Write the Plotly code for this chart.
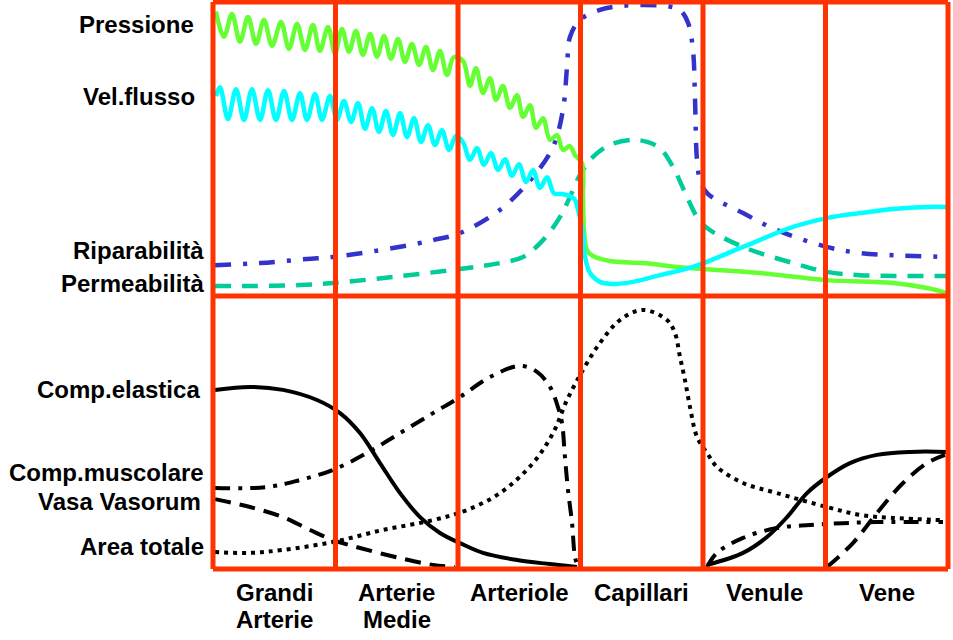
import plotly.graph_objects as go

# ---------------- data ----------------
col_line1 = ["Grandi", "Arterie", "Arteriole", "Capillari", "Venule", "Vene"]
col_line2 = ["Arterie", "Medie", "", "", "", ""]
top_labels = ["Pressione", "Vel.flusso", "Riparabilità", "Permeabilità"]
bottom_labels = ["Comp.elastica", "Comp.muscolare", "Vasa Vasorum", "Area totale"]

# Pressione (green, oscillating)
press_x = [0.024, 0.090, 0.155, 0.220, 0.286, 0.351, 0.416, 0.482, 0.555, 0.620, 0.686, 0.751, 0.816, 0.873, 0.939, 0.996,
           1.053, 1.110, 1.167, 1.224, 1.282, 1.339, 1.396, 1.453, 1.510, 1.567, 1.624, 1.682, 1.739, 1.796, 1.853, 1.910, 1.967,
           2.041, 2.098, 2.147, 2.204, 2.261, 2.310, 2.367, 2.424, 2.482, 2.531, 2.588, 2.637, 2.694, 2.751, 2.808, 2.857, 2.914, 2.955,
           3.012, 3.020, 3.029, 3.053, 3.102, 3.241, 3.510, 3.788, 4.000, 4.465, 5.012, 5.551, 5.829, 5.992]
press_y = [96.8, 88.2, 95.9, 86.5, 94.9, 85.8, 93.9, 85.1, 93.2, 84.1, 92.5, 83.7, 92.2, 83.4, 91.5, 82.4,
           90.8, 83.1, 90.1, 82.0, 89.1, 81.4, 88.4, 80.7, 87.4, 79.7, 85.7, 78.6, 84.7, 76.9, 83.3, 75.2, 81.3,
           79.9, 71.5, 77.5, 69.1, 74.1, 66.7, 71.4, 64.0, 68.3, 60.9, 64.9, 57.2, 60.5, 53.1, 54.7, 49.7, 51.0, 47.9,
           45.2, 33.7, 22.4, 15.6, 13.6, 11.9, 11.2, 9.9, 9.2, 7.8, 5.4, 4.4, 2.7, 1.0]

# Vel.flusso (cyan, oscillating)
vel_x = [0.024, 0.057, 0.122, 0.188, 0.253, 0.318, 0.384, 0.449, 0.514, 0.580, 0.645, 0.710, 0.767, 0.833, 0.890, 0.955, 1.012,
         1.069, 1.127, 1.184, 1.241, 1.298, 1.355, 1.412, 1.469, 1.527, 1.584, 1.641, 1.698, 1.755, 1.812, 1.869, 1.927, 1.984,
         2.041, 2.098, 2.155, 2.212, 2.269, 2.327, 2.384, 2.441, 2.498, 2.555, 2.612, 2.669, 2.727, 2.784,
         2.849, 2.914, 2.955, 2.980, 3.020, 3.037, 3.078, 3.159, 3.265, 3.429, 3.649, 3.918, 4.327, 4.735, 5.012, 5.282, 5.551, 5.829, 5.992]
vel_y = [68.0, 71.0, 60.2, 70.3, 59.9, 70.3, 59.9, 70.0, 59.9, 69.7, 59.9, 69.0, 59.9, 68.7, 59.9, 68.0, 59.9,
         66.3, 59.2, 65.6, 56.9, 63.9, 55.8, 62.9, 54.8, 62.2, 54.1, 60.5, 52.4, 58.1, 51.4, 56.4, 49.7, 54.4,
         52.3, 46.3, 50.3, 44.6, 48.6, 42.9, 46.5, 40.9, 44.8, 38.8, 42.8, 36.8, 40.4, 34.9,
         34.7, 34.0, 32.7, 29.3, 21.8, 13.3, 7.8, 4.8, 4.1, 4.8, 7.1, 9.9, 16.7, 23.5, 26.5, 28.2, 29.6, 30.3, 30.3]

# Riparabilità (blue dash-dot)
rip_x = [0.016, 0.384, 0.767, 0.980, 1.469, 1.796, 2.016, 2.343, 2.612, 2.776, 2.857, 2.890, 2.914, 2.996, 3.159, 3.322,
         3.510, 3.706, 3.812, 3.878, 3.918, 3.935, 3.951, 3.976, 4.033, 4.327, 4.604, 5.012, 5.282, 5.551, 5.992]
rip_y = [10.5, 11.2, 12.6, 13.3, 16.3, 19.0, 21.4, 29.3, 40.5, 50.7, 63.3, 77.9, 88.1, 93.9, 97.3, 98.6,
         99.0, 98.6, 97.3, 92.9, 83.7, 66.7, 46.3, 39.5, 35.0, 28.2, 22.4, 16.7, 14.6, 13.9, 13.3]

# Permeabilità (teal dashed)
perm_x = [0.016, 0.302, 0.710, 0.980, 1.469, 2.016, 2.343, 2.531, 2.694, 2.833, 2.914, 2.996, 3.102, 3.241, 3.429, 3.543,
          3.649, 3.755, 3.869, 3.951, 4.033, 4.327, 4.735, 5.012, 5.282, 5.992]
perm_y = [3.4, 3.4, 3.7, 4.4, 6.5, 9.2, 11.2, 13.3, 19.0, 26.9, 33.7, 41.2, 47.3, 51.4, 53.1, 52.4,
          50.3, 43.9, 33.7, 26.9, 23.1, 16.7, 11.2, 8.2, 7.1, 6.8]

# Comp.elastica (solid black, two segments)
ela_x = [0.016, 0.302, 0.571, 0.849, 1.037, 1.200, 1.363, 1.527, 1.690, 1.853, 2.016, 2.204, 2.482, 2.751, 2.971, None,
         4.033, 4.327, 4.522, 4.686, 4.849, 5.012, 5.200, 5.420, 5.690, 5.992]
ela_y = [65.6, 66.7, 65.6, 61.9, 57.1, 49.8, 38.8, 27.8, 19.0, 13.2, 9.5, 5.9, 3.3, 1.8, 0.7, None,
         1.5, 5.9, 11.7, 19.0, 27.8, 33.7, 38.8, 41.8, 42.9, 42.9]

# Comp.muscolare (black dash-dot)
mus_x = [0.016, 0.441, 0.710, 0.980, 1.257, 1.527, 1.796, 2.016, 2.261, 2.506, 2.645, 2.751, 2.816, 2.849, 2.873, 2.898,
         2.931, 2.955, 2.980, None, 4.033, 4.114, 4.327, 4.604, 4.873, 5.143, 5.420, 5.959]
mus_y = [29.7, 30.0, 32.6, 36.3, 42.5, 49.8, 57.1, 63.0, 70.3, 74.4, 72.2, 66.7, 59.3, 53.5, 41.0, 28.9,
         16.8, 4.4, 0.7, None, 0.7, 5.9, 11.4, 15.0, 16.1, 16.8, 17.2, 17.2]

# Vasa Vasorum (black dashed)
vasa_x = [0.016, 0.302, 0.571, 0.792, 0.980, 1.200, 1.527, 1.796, 1.976, None, 5.012, 5.224, 5.420, 5.633, 5.829, 5.976]
vasa_y = [25.6, 22.7, 19.0, 14.3, 10.6, 7.7, 4.0, 1.5, 0.7, None, 0.7, 9.5, 20.5, 31.5, 38.8, 41.8]

# Area totale (black dotted)
area_x = [0.016, 0.302, 0.571, 0.980, 1.388, 1.796, 2.073, 2.343, 2.612, 2.776, 2.890, 3.020, 3.159, 3.322, 3.510, 3.706,
          3.771, 3.812, 3.853, 3.894, 3.951, 4.033, 4.114, 4.327, 4.604, 5.012, 5.282, 5.551, 5.959]
area_y = [6.2, 5.9, 7.0, 9.9, 14.3, 17.9, 21.6, 27.8, 38.8, 49.8, 61.9, 72.9, 82.8, 91.2, 94.9, 91.2,
          86.4, 77.7, 69.2, 59.3, 48.4, 42.5, 37.4, 31.5, 27.8, 22.7, 19.8, 18.7, 17.9]

# ---------------- figure ----------------
RED = "#FF3300"
fig = go.Figure()

def add(x, y, color, width, dash, axis):
    fig.add_trace(go.Scatter(x=x, y=y, mode="lines", yaxis=axis, xaxis="x",
                             line=dict(color=color, width=width, dash=dash, shape="spline", smoothing=1),
                             connectgaps=False, hoverinfo="skip", showlegend=False))

add(rip_x, rip_y, "#3333CC", 4.5, "16px,12px,4px,12px", "y")
add(perm_x, perm_y, "#00CC99", 4.5, "16px,11px", "y")
add(press_x, press_y, "#66FF33", 4.5, "solid", "y")
add(vel_x, vel_y, "#00FFFF", 4.5, "solid", "y")

add(ela_x, ela_y, "black", 4, "solid", "y2")
add(mus_x, mus_y, "black", 4, "15px,8px,4px,8px", "y2")
add(vasa_x, vasa_y, "black", 4, "16px,9px", "y2")
add(area_x, area_y, "black", 4, "4px,5px", "y2")

split = 273 / 567.0
shapes = []
for i in range(7):
    shapes.append(dict(type="line", xref="paper", yref="paper", x0=i / 6, x1=i / 6, y0=0, y1=1,
                       line=dict(color=RED, width=5), layer="above"))
for yv in [0, split, 1]:
    shapes.append(dict(type="line", xref="paper", yref="paper", x0=0, x1=1, y0=yv, y1=yv,
                       line=dict(color=RED, width=5), layer="above"))

FONT = dict(family="Liberation Sans, Arial, sans-serif", size=24, color="black")
annotations = []
top_pos = [(-0.023, 92.5), (-0.022, 68.0), (-0.010, 15.6), (-0.009, 4.1)]
for lab, (xp, yv) in zip(top_labels, top_pos):
    annotations.append(dict(text="<b>%s</b>" % lab, x=xp, xref="paper", y=yv, yref="y",
                            xanchor="right", yanchor="middle", showarrow=False, font=FONT))
bot_pos = [(-0.015, 65.9), (-0.010, 35.2), (-0.014, 24.9), (-0.010, 8.1)]
for lab, (xp, yv) in zip(bottom_labels, bot_pos):
    annotations.append(dict(text="<b>%s</b>" % lab, x=xp, xref="paper", y=yv, yref="y2",
                            xanchor="right", yanchor="middle", showarrow=False, font=FONT))
for i, (l1, l2) in enumerate(zip(col_line1, col_line2)):
    annotations.append(dict(text="<b>%s</b>" % l1, x=i + 0.5, xref="x", y=-0.0423, yref="paper",
                            xanchor="center", yanchor="middle", showarrow=False, font=FONT))
    if l2:
        annotations.append(dict(text="<b>%s</b>" % l2, x=i + 0.5, xref="x", y=-0.0899, yref="paper",
                                xanchor="center", yanchor="middle", showarrow=False, font=FONT))

fig.update_layout(
    width=953, height=640,
    margin=dict(l=213, r=5, t=2, b=71),
    paper_bgcolor="white", plot_bgcolor="white",
    xaxis=dict(range=[0, 6], visible=False, anchor="y2"),
    yaxis=dict(range=[0, 100], domain=[split, 1], visible=False),
    yaxis2=dict(range=[0, 100], domain=[0, split], visible=False, anchor="x"),
    shapes=shapes, annotations=annotations,
)

fig.write_html("out.html")
